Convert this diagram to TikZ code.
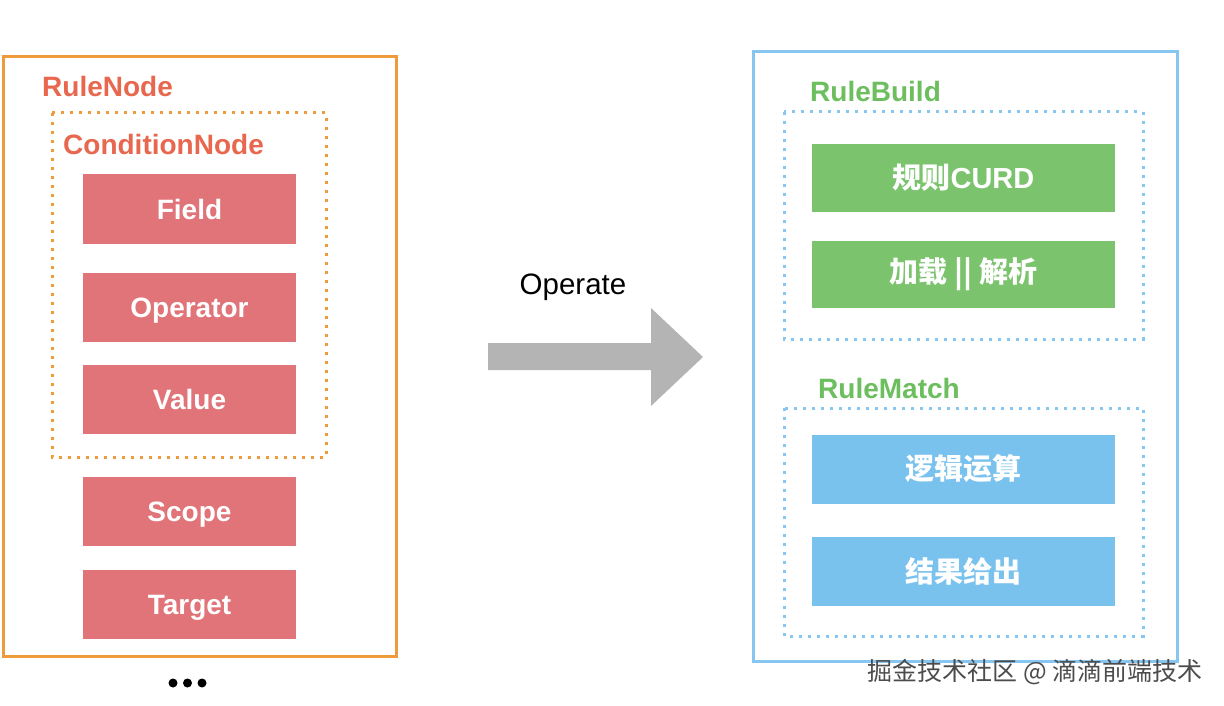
\documentclass[tikz,border=0pt]{standalone}
\usepackage{fontspec}
\setmainfont{Liberation Sans}
\newfontfamily\cjk{Noto Sans CJK SC}
\definecolor{orangeb}{HTML}{EE9B3B}
\definecolor{redtxt}{HTML}{E8674F}
\definecolor{redbox}{HTML}{E07479}
\definecolor{greenbox}{HTML}{7CC36E}
\definecolor{greentxt}{HTML}{6CBE5E}
\definecolor{bluebox}{HTML}{7AC2EE}
\definecolor{blueb}{HTML}{86C6F0}
\definecolor{arrowgray}{HTML}{B4B4B4}
\begin{document}
\begin{tikzpicture}[x=1pt,y=-1pt,
  redblock/.style={fill=redbox, text=white, minimum width=213pt, minimum height=69pt, inner sep=0pt, text height=20pt, text depth=0pt, font=\fontsize{28}{32}\selectfont\bfseries},
  greenblock/.style={fill=greenbox, text=white, minimum width=303pt, minimum height=67pt, inner sep=0pt, font=\cjk\fontsize{29}{32}\selectfont\bfseries},
  blueblock/.style={fill=bluebox, text=white, minimum width=303pt, minimum height=69pt, inner sep=0pt, font=\cjk\fontsize{29}{32}\selectfont\bfseries},
  odots/.style={draw=orangeb, line width=3pt, dash pattern=on 3pt off 6pt},
  bdots/.style={draw=blueb, line width=3pt, dash pattern=on 3pt off 6pt},
  title/.style={anchor=west, inner sep=0pt, font=\fontsize{28}{32}\selectfont\bfseries}
]
\useasboundingbox (0,0) rectangle (1224,706);
% left
\draw[orangeb, line width=3pt] (3,57) rectangle (396,656);
\node[title, text=redtxt] (rulenode) at (42,86) {RuleNode};
\draw[odots] (52,113) rectangle (326,457);
\node[title, text=redtxt] (condnode) at (63,144) {ConditionNode};
\node[redblock] (field) at (189.5,209) {Field};
\node[redblock] (operator) at (189.5,307) {Operator};
\node[redblock] (value) at (189.5,399) {Value};
\node[redblock] (scope) at (189.5,511) {Scope};
\node[redblock] (target) at (189.5,604) {Target};
\fill (173,683) circle (4.5pt) (187.5,683) circle (4.5pt) (202,683) circle (4.5pt);
% arrow
\node[font=\fontsize{29.5}{32}\selectfont] (operate) at (573,287) {Operate};
\fill[arrowgray] (488,343) -- (651,343) -- (651,308) -- (703,357) -- (651,406) -- (651,370) -- (488,370) -- cycle;
% right
\draw[blueb, line width=3pt] (753,52) rectangle (1177,661);
\node[title, text=greentxt] (rulebuild) at (810,91) {RuleBuild};
\draw[bdots] (784,112) rectangle (1143,339);
\node[greenblock] (curd) at (963.5,178) {规则{\fontspec{Liberation Sans}CURD}};
\node[greenblock] (load) at (963.5,274) {加载 || 解析};
\node[title, text=greentxt] (rulematch) at (818,388) {RuleMatch};
\draw[bdots] (784,408) rectangle (1143,636);
\node[blueblock] (logic) at (963.5,469) {逻辑运算};
\node[blueblock] (result) at (963.5,571) {结果给出};
\node[font=\cjk\fontsize{25}{28}\selectfont, text=black!70, anchor=east, inner sep=0pt] (wm) at (1203,672) {掘金技术社区 @ 滴滴前端技术};
\end{tikzpicture}
\end{document}
